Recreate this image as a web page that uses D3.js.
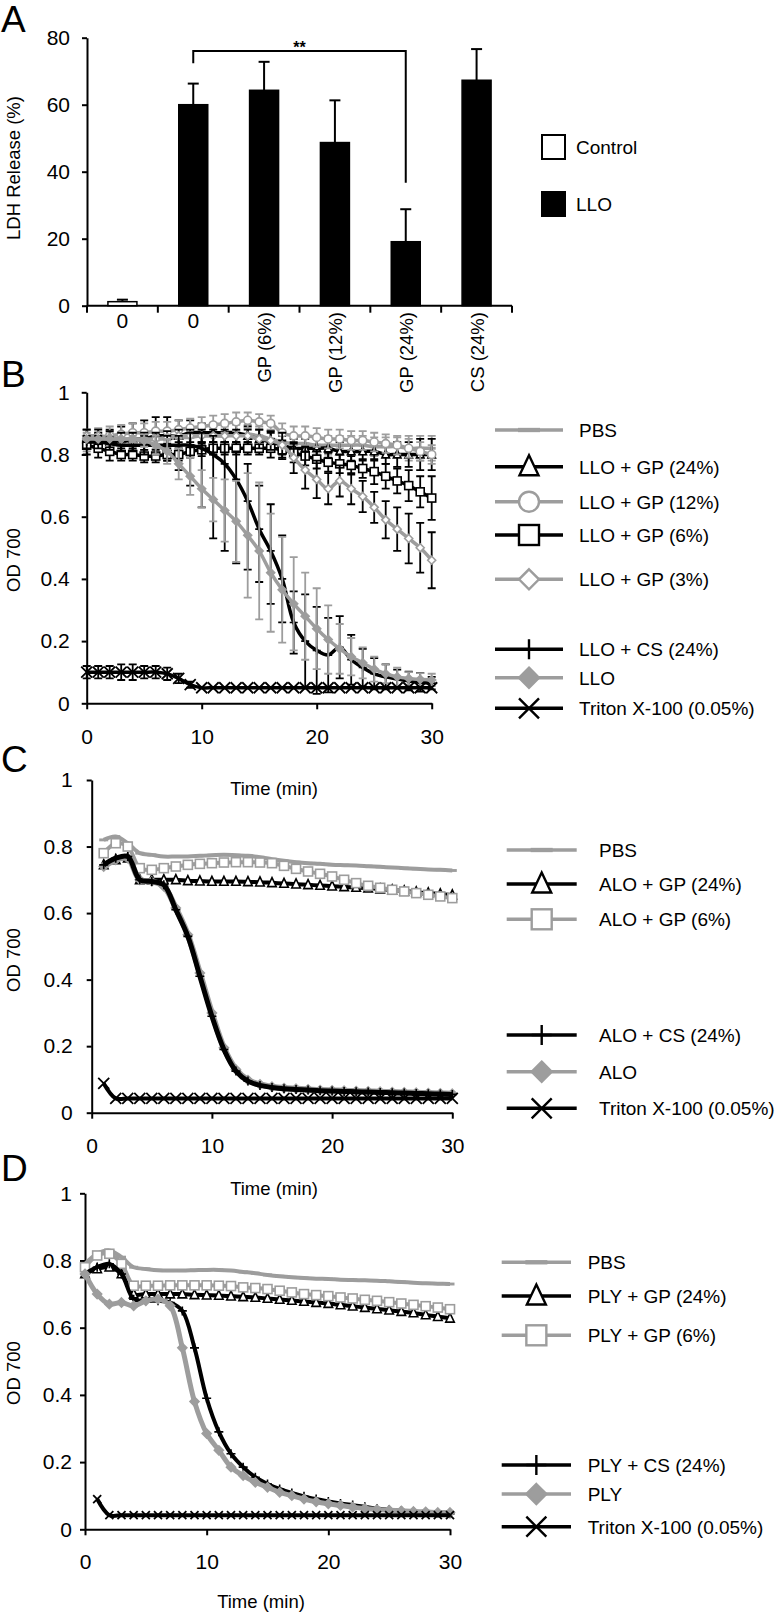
<!DOCTYPE html>
<html>
<head>
<meta charset='utf-8' />
<title></title>
<style>
  body{ margin:0; background:#fff; }
  text{ font-family: "Liberation Sans", Arial, Helvetica, sans-serif; fill:#000; }
</style>
</head>
<body>
<script src="https://d3js.org/d3.v7.min.js"></script>
<script>

// ---- panel A : LDH release
let aCats = ['0','0','GP (6%)','GP (12%)','GP (24%)','CS (24%)'],
  aGroup = ['Control','LLO','LLO','LLO','LLO','LLO'],
  aVals = [1.2, 60.0, 64.3, 48.7, 19.1, 67.3],
  aErr = [0.6, 6.3, 8.5, 12.6, 9.7, 9.3],
  aTicks = [0,20,40,60,80],
  aLegend = ['Control','LLO']

// ---- panel B : LLO hemolysis (OD 700)
let tB = [0,1,2,3,4,5,6,7,8,9,10,11,12,13,14,15,16,17,18,19,20,21,22,23,24,25,26,27,28,29,30]
let bLabels = ['PBS','LLO + GP (24%)','LLO + GP (12%)','LLO + GP (6%)','LLO + GP (3%)','LLO + CS (24%)','LLO','Triton X-100 (0.05%)']
let bPBS = [0.84,0.84,0.84,0.84,0.845,0.845,0.85,0.85,0.855,0.855,0.86,0.86,0.86,0.865,0.865,0.86,0.85,0.84,0.835,0.835,0.83,0.83,0.83,0.83,0.83,0.825,0.825,0.825,0.82,0.82,0.82]
let bPBSErr = [0.03,0.03,0.03,0.03,0.03,0.03,0.03,0.03,0.03,0.03,0.03,0.03,0.03,0.03,0.03,0.03,0.03,0.03,0.03,0.03,0.03,0.03,0.03,0.03,0.03,0.03,0.03,0.03,0.04,0.04,0.04]
let bGP24 = [0.85,0.84,0.84,0.84,0.85,0.85,0.86,0.86,0.86,0.87,0.87,0.87,0.87,0.87,0.86,0.85,0.84,0.83,0.82,0.82,0.82,0.82,0.81,0.81,0.81,0.81,0.80,0.80,0.80,0.80,0.80]
let bGP24Err = [0.03,0.03,0.04,0.05,0.05,0.06,0.06,0.06,0.05,0.04,0.03,0.03,0.03,0.03,0.03,0.03,0.03,0.03,0.03,0.03,0.03,0.03,0.03,0.03,0.03,0.03,0.03,0.04,0.04,0.05,0.05]
let bGP12 = [0.85,0.855,0.86,0.865,0.87,0.87,0.875,0.875,0.88,0.885,0.89,0.895,0.90,0.905,0.91,0.905,0.90,0.87,0.86,0.86,0.855,0.85,0.85,0.845,0.845,0.84,0.835,0.83,0.82,0.81,0.80]
let bGP12Err = [0.03,0.03,0.03,0.03,0.03,0.03,0.03,0.03,0.03,0.03,0.03,0.03,0.03,0.03,0.025,0.025,0.025,0.03,0.03,0.03,0.03,0.03,0.03,0.03,0.03,0.03,0.03,0.03,0.03,0.03,0.03]
let bGP6 = [0.83,0.82,0.81,0.80,0.80,0.795,0.795,0.80,0.80,0.81,0.815,0.82,0.82,0.82,0.82,0.82,0.82,0.815,0.805,0.795,0.785,0.775,0.77,0.765,0.755,0.745,0.73,0.715,0.70,0.68,0.66]
let bGP6Err = [0.03,0.03,0.03,0.02,0.02,0.02,0.02,0.02,0.02,0.02,0.02,0.02,0.02,0.02,0.02,0.02,0.03,0.03,0.03,0.03,0.03,0.03,0.03,0.03,0.03,0.04,0.04,0.04,0.05,0.05,0.07]
let bGP3 = [0.86,0.86,0.855,0.85,0.85,0.85,0.85,0.855,0.86,0.86,0.86,0.86,0.86,0.86,0.86,0.85,0.845,0.83,0.79,0.75,0.72,0.69,0.715,0.69,0.665,0.63,0.59,0.56,0.53,0.50,0.46]
let bGP3Err = [0.02,0.02,0.02,0.02,0.02,0.02,0.02,0.02,0.02,0.02,0.02,0.02,0.02,0.02,0.02,0.03,0.03,0.04,0.05,0.06,0.06,0.05,0.05,0.05,0.05,0.05,0.06,0.07,0.08,0.08,0.09]
let bCS = [0.84,0.84,0.835,0.83,0.83,0.83,0.83,0.83,0.83,0.83,0.82,0.80,0.77,0.72,0.65,0.56,0.49,0.40,0.26,0.20,0.17,0.155,0.18,0.14,0.115,0.095,0.085,0.078,0.072,0.068,0.065]
let bCSErr = [0.02,0.02,0.02,0.02,0.02,0.03,0.03,0.05,0.08,0.13,0.19,0.27,0.28,0.27,0.22,0.17,0.17,0.14,0.10,0.15,0.14,0.12,0.10,0.08,0.06,0.05,0.04,0.03,0.03,0.03,0.02]
let bCSErrUp = [0.02,0.02,0.02,0.02,0.02,0.03,0.03,0.03,0.03,0.04,0.05,0.06,0.07,0.09,0.12,0.14,0.15,0.14,0.10,0.15,0.14,0.12,0.10,0.08,0.06,0.05,0.04,0.03,0.03,0.03,0.02]
let bLLO = [0.85,0.85,0.85,0.85,0.85,0.845,0.83,0.81,0.77,0.73,0.69,0.655,0.62,0.585,0.54,0.49,0.42,0.365,0.32,0.28,0.24,0.205,0.175,0.15,0.13,0.11,0.095,0.085,0.08,0.077,0.075]
let bLLOErr = [0,0,0,0,0.01,0.02,0.03,0.04,0.05,0.06,0.06,0.07,0.10,0.13,0.20,0.22,0.19,0.17,0.15,0.14,0.13,0.11,0.08,0.06,0.05,0.04,0.03,0.03,0.02,0.02,0.02]
let bTriton = [0.10,0.10,0.10,0.10,0.10,0.10,0.10,0.095,0.08,0.06,0.05,0.05,0.05,0.05,0.05,0.05,0.05,0.05,0.05,0.05,0.05,0.05,0.05,0.05,0.05,0.05,0.05,0.05,0.05,0.05,0.05]
let bTritonErr = [0.02,0.02,0.02,0.025,0.025,0.02,0.02,0.02,0.015,0.01,0,0,0,0,0,0,0,0,0,0,0,0,0,0,0,0,0,0,0,0,0]

// ---- panel C : ALO
let tC = [1,2,3,4,5,6,7,8,9,10,11,12,13,14,15,16,17,18,19,20,21,22,23,24,25,26,27,28,29,30]
let cLabels = ['PBS','ALO + GP (24%)','ALO + GP (6%)','ALO + CS (24%)','ALO','Triton X-100 (0.05%)']
let cPBS = [0.82,0.83,0.81,0.78,0.775,0.77,0.77,0.77,0.772,0.774,0.775,0.774,0.772,0.768,0.762,0.757,0.753,0.75,0.748,0.745,0.744,0.743,0.741,0.739,0.737,0.735,0.733,0.731,0.73,0.728]
let cGP24 = [0.745,0.76,0.765,0.70,0.70,0.70,0.70,0.697,0.696,0.695,0.695,0.695,0.694,0.693,0.691,0.689,0.687,0.685,0.683,0.681,0.679,0.677,0.675,0.672,0.669,0.666,0.663,0.66,0.657,0.654]
let cGP6 = [0.78,0.81,0.80,0.735,0.73,0.735,0.74,0.745,0.748,0.75,0.752,0.753,0.753,0.752,0.75,0.742,0.733,0.725,0.718,0.71,0.70,0.69,0.682,0.676,0.67,0.665,0.66,0.655,0.65,0.645]
let cCS = [0.745,0.765,0.77,0.70,0.695,0.685,0.61,0.53,0.41,0.29,0.19,0.125,0.095,0.082,0.076,0.072,0.07,0.068,0.066,0.065,0.064,0.063,0.062,0.061,0.06,0.059,0.058,0.057,0.056,0.055]
let cALO = [0.74,0.76,0.765,0.70,0.695,0.68,0.615,0.535,0.42,0.30,0.195,0.13,0.098,0.085,0.078,0.074,0.072,0.07,0.068,0.067,0.066,0.065,0.064,0.063,0.062,0.061,0.06,0.059,0.058,0.057]
let cTriton = [0.088,0.043,0.043,0.043,0.043,0.043,0.043,0.043,0.043,0.043,0.043,0.043,0.043,0.043,0.043,0.043,0.043,0.043,0.043,0.043,0.043,0.043,0.043,0.043,0.043,0.043,0.043,0.043,0.043,0.043]

// ---- panel D : PLY
let tD = [0,1,2,3,4,5,6,7,8,9,10,11,12,13,14,15,16,17,18,19,20,21,22,23,24,25,26,27,28,29,30]
let dLabels = ['PBS','PLY + GP (24%)','PLY + GP (6%)','PLY + CS (24%)','PLY','Triton X-100 (0.05%)']
let dPBS = [0.79,0.82,0.83,0.81,0.78,0.775,0.771,0.77,0.77,0.771,0.772,0.772,0.77,0.766,0.762,0.757,0.753,0.75,0.748,0.746,0.745,0.743,0.742,0.741,0.74,0.738,0.736,0.734,0.732,0.731,0.73]
let dGP24 = [0.76,0.775,0.78,0.76,0.70,0.70,0.70,0.70,0.70,0.698,0.697,0.696,0.694,0.692,0.69,0.687,0.684,0.681,0.678,0.675,0.672,0.668,0.664,0.66,0.656,0.652,0.648,0.644,0.638,0.633,0.628]
let dGP6 = [0.78,0.815,0.82,0.79,0.725,0.725,0.725,0.726,0.726,0.726,0.726,0.725,0.724,0.72,0.718,0.715,0.71,0.705,0.70,0.697,0.694,0.69,0.687,0.683,0.68,0.676,0.672,0.668,0.664,0.66,0.655]
let dCS = [0.76,0.78,0.79,0.76,0.685,0.68,0.68,0.675,0.65,0.54,0.39,0.29,0.225,0.185,0.155,0.135,0.12,0.108,0.098,0.09,0.083,0.077,0.072,0.067,0.062,0.058,0.055,0.052,0.05,0.048,0.046]
let dPLY = [0.76,0.70,0.67,0.675,0.665,0.68,0.685,0.665,0.54,0.38,0.285,0.235,0.185,0.16,0.14,0.125,0.11,0.10,0.09,0.082,0.076,0.071,0.066,0.062,0.059,0.057,0.055,0.053,0.052,0.05,0.05]
let dTriton = [null,0.09,0.042,0.042,0.042,0.042,0.042,0.042,0.042,0.042,0.042,0.042,0.042,0.042,0.042,0.042,0.042,0.042,0.042,0.042,0.042,0.042,0.042,0.042,0.042,0.042,0.042,0.042,0.042,0.042,0.042]

let odTicks = [0,0.2,0.4,0.6,0.8,1], timeTicks = [0,10,20,30]

const GRAY = '#9d9d9d'
let style = {
  pbs:{color:GRAY, marker:'dash'},
  gp24:{color:'#000', marker:'tri'},
  gp12:{color:GRAY, marker:'circle'},
  gp6k:{color:'#000', marker:'square'},
  gp6g:{color:GRAY, marker:'square'},
  gp3:{color:GRAY, marker:'diamondOpen'},
  cs:{color:'#000', marker:'plus'},
  toxin:{color:GRAY, marker:'diamond'},
  triton:{color:'#000', marker:'x'}
}

let svg = d3.select('body').append('svg').attr('width',777).attr('height',1615)

function marker(g, type, s, color, sw){
  let h = s/2
  if(type == 'dash'){
    g.append('rect').attr('x',-h).attr('y',-sw*0.9).attr('width',s).attr('height',sw*1.8).style('fill',color)
  }else if(type == 'tri'){
    g.append('path').attr('d','M0,'+(-h*1.15)+'L'+(h*0.95)+','+(h*0.85)+'L'+(-h*0.95)+','+(h*0.85)+'Z')
      .style('fill','#fff').style('stroke',color).style('stroke-width',sw)
  }else if(type == 'circle'){
    g.append('circle').attr('r',h).style('fill','#fff').style('stroke',color).style('stroke-width',sw)
  }else if(type == 'square'){
    g.append('rect').attr('x',-h).attr('y',-h).attr('width',s).attr('height',s)
      .style('fill','#fff').style('stroke',color).style('stroke-width',sw)
  }else if(type == 'diamondOpen' || type == 'diamond'){
    g.append('path').attr('d','M0,'+(-h)+'L'+h+',0L0,'+h+'L'+(-h)+',0Z')
      .style('fill',(type == 'diamond')?color:'#fff').style('stroke',color).style('stroke-width',sw)
  }else if(type == 'plus'){
    g.append('path').attr('d','M0,'+(-h)+'V'+h+'M'+(-h)+',0H'+h).style('stroke',color).style('stroke-width',sw)
  }else if(type == 'x'){
    g.append('path').attr('d','M'+(-h)+','+(-h)+'L'+h+','+h+'M'+h+','+(-h)+'L'+(-h)+','+h)
      .style('stroke',color).style('stroke-width',sw)
  }
}

function styleAxis(a, fs){
  a.select('.domain').style('stroke','#000').style('stroke-width',2)
  a.selectAll('.tick line').style('stroke','#000').style('stroke-width',2)
  a.selectAll('.tick text').style('font-size',fs+'px').style('font-family','"Liberation Sans", Arial, sans-serif').style('fill','#000')
}

function panelLetter(txt, yb){
  svg.append('text').attr('x',1).attr('y',yb).text(txt).style('font-size','37px')
}

function yTitle(txt, x, cy, fs){
  svg.append('text').attr('transform','translate('+x+','+cy+') rotate(-90)')
    .attr('text-anchor','middle').text(txt).style('font-size',fs+'px')
}

// ================= panel A
panelLetter('A', 32)
{
  let x = d3.scaleBand().domain(d3.range(aCats.length)).range([87,512]).padding(0),
    y = d3.scaleLinear().domain([0,80]).range([305.7,37.7])
  let g = svg.append('g')

  let ya = g.append('g').attr('transform','translate(87,0)')
    .call(d3.axisLeft(y).tickValues(aTicks).tickSize(5).tickSizeOuter(0).tickPadding(12))
  styleAxis(ya, 21)

  g.append('line').attr('x1',87).attr('x2',512).attr('y1',y(0)).attr('y2',y(0)).style('stroke','#000').style('stroke-width',2)
  g.selectAll('.bnd').data(d3.range(aCats.length+1)).enter().append('line')
    .attr('x1',d => 87 + d*x.step()).attr('x2',d => 87 + d*x.step())
    .attr('y1',y(0)).attr('y2',y(0)+7).style('stroke','#000').style('stroke-width',2)

  let bw = 29
  let bars = g.selectAll('.bar').data(aVals).enter().append('g')
  bars.append('line')
    .attr('x1',(d,i) => x(i)+x.bandwidth()/2).attr('x2',(d,i) => x(i)+x.bandwidth()/2)
    .attr('y1',d => y(d)).attr('y2',(d,i) => y(d+aErr[i]))
    .style('stroke','#000').style('stroke-width',2)
  bars.append('line')
    .attr('x1',(d,i) => x(i)+x.bandwidth()/2-5.5).attr('x2',(d,i) => x(i)+x.bandwidth()/2+5.5)
    .attr('y1',(d,i) => y(d+aErr[i])).attr('y2',(d,i) => y(d+aErr[i]))
    .style('stroke','#000').style('stroke-width',2)
  bars.append('rect')
    .attr('x',(d,i) => x(i)+x.bandwidth()/2-bw/2).attr('width',bw)
    .attr('y',d => y(d)).attr('height',d => y(0)-y(d))
    .style('fill',(d,i) => aGroup[i] == 'Control' ? '#fff' : '#000')
    .style('stroke','#000').style('stroke-width',1.5)

  // category labels
  aCats.forEach((c,i) => {
    let cx = x(i)+x.bandwidth()/2
    if(c == '0'){
      g.append('text').attr('x',cx).attr('y',328).attr('text-anchor','middle').text(c).style('font-size','21px')
    }else{
      g.append('text').attr('transform','translate('+(cx+7)+',312) rotate(-90)')
        .attr('text-anchor','end').text(c).style('font-size','18.5px')
    }
  })

  // significance bracket between LLO alone and GP (24%)
  let x1 = x(1)+x.bandwidth()/2, x2 = x(4)+x.bandwidth()/2
  g.append('path').attr('d','M'+x1+','+y(72.4)+'V'+y(76)+'H'+x2+'V'+y(36.7))
    .style('fill','none').style('stroke','#000').style('stroke-width',2)
  g.append('text').attr('x',(x1+x2)/2).attr('y',53).attr('text-anchor','middle').text('**')
    .style('font-size','16px').style('font-weight','bold')

  yTitle('LDH Release (%)', 19.5, 168, 18.5)

  // legend
  aLegend.forEach((l,i) => {
    let ly = [147,204][i]
    g.append('rect').attr('x',542).attr('y',ly-12).attr('width',23).attr('height',24)
      .style('fill',l == 'Control' ? '#fff' : '#000').style('stroke','#000').style('stroke-width',2)
    g.append('text').attr('x',576).attr('y',ly+7).text(l).style('font-size','19px')
  })
}

// ================= line panels
function linePanel(p){
  let x = d3.scaleLinear().domain([0,30]).range([p.x0,p.x1]),
    y = d3.scaleLinear().domain([0,1]).range([p.y0,p.y1])
  let g = svg.append('g')

  let xa = g.append('g').attr('transform','translate(0,'+p.y0+')')
    .call(d3.axisBottom(x).tickValues(timeTicks).tickSize(6).tickSizeOuter(0).tickPadding(p.xPad))
  styleAxis(xa, 21)
  let ya = g.append('g').attr('transform','translate('+p.x0+',0)')
    .call(d3.axisLeft(y).tickValues(odTicks).tickFormat(d3.format('~g')).tickSize(5).tickSizeOuter(0).tickPadding(p.yPad))
  styleAxis(ya, 21)

  let line = d3.line()
    .defined(d => d.v != null)
    .x(d => x(d.t)).y(d => y(d.v))
    .curve(d3.curveCatmullRom.alpha(0.5))

  let order = p.order || p.series.map((s,i) => i)
  order.forEach(k => {
    let s = p.series[k], st = style[s.st]
    let pts = p.t.map((t,i) => ({t:t, v:s.v[i], e:s.e ? s.e[i] : 0, eu:s.eu ? s.eu[i] : (s.e ? s.e[i] : 0)}))
      .filter(d => d.v != null)
    let sg = g.append('g')
    sg.append('path').datum(pts).attr('d',line)
      .style('fill','none').style('stroke',st.color).style('stroke-width',s.lw || p.lw)
      .style('stroke-linejoin','round')
    if(s.e){
      let ec = s.ec || st.color
      sg.selectAll('.eb').data(pts.filter(d => d.e > 0)).enter().append('path')
        .attr('d',d => 'M'+x(d.t)+','+y(d.v-d.e)+'V'+y(d.v+d.eu)
          +'M'+(x(d.t)-4)+','+y(d.v-d.e)+'h8M'+(x(d.t)-4)+','+y(d.v+d.eu)+'h8')
        .style('fill','none').style('stroke',ec).style('stroke-width',1.8)
    }
    sg.selectAll('.mk').data(pts).enter().append('g')
      .attr('transform',d => 'translate('+x(d.t)+','+y(d.v)+')')
      .each(function(d){
        let ms = (st.marker == 'x') ? p.xSize : p.ms
        marker(d3.select(this), st.marker, ms, st.color, st.marker == 'x' ? 1.8 : 1.6)
      })
  })

  // legend
  p.series.forEach((s,i) => {
    let st = style[s.st], ly = p.legY[i]
    let lg = g.append('g')
    lg.append('line').attr('x1',p.legX0).attr('x2',p.legX1).attr('y1',ly).attr('y2',ly)
      .style('stroke',st.color).style('stroke-width',3.5)
    let mg = lg.append('g').attr('transform','translate('+((p.legX0+p.legX1)/2)+','+ly+')')
    marker(mg, st.marker, st.marker == 'dash' ? 22 : 20, st.color, 2.4)
    lg.append('text').attr('x',p.legT).attr('y',ly+7).text(s.label).style('font-size','19px')
  })

  yTitle('OD 700', 20, p.yTitleY, 18.5)
  svg.append('text').attr('x',p.tX).attr('y',p.tY).attr('text-anchor','middle').text('Time (min)').style('font-size','18.5px')
}

panelLetter('B', 387)
linePanel({
  x0:86.7, x1:431.7, y0:703.3, y1:392.3, xPad:20, yPad:12, lw:3.5, ms:8, xSize:11,
  t:tB,
  series:[
    {label:bLabels[0], st:'pbs', v:bPBS, e:bPBSErr},
    {label:bLabels[1], st:'gp24', v:bGP24, e:bGP24Err},
    {label:bLabels[2], st:'gp12', v:bGP12, e:bGP12Err},
    {label:bLabels[3], st:'gp6k', v:bGP6, e:bGP6Err},
    {label:bLabels[4], st:'gp3', v:bGP3, e:bGP3Err, ec:'#000'},
    {label:bLabels[5], st:'cs', v:bCS, e:bCSErr, eu:bCSErrUp},
    {label:bLabels[6], st:'toxin', v:bLLO, e:bLLOErr},
    {label:bLabels[7], st:'triton', v:bTriton, e:bTritonErr}
  ],
  legX0:495, legX1:563, legT:579,
  legY:[430,466.7,501.7,535,579.3,649.3,677.7,708.3],
  yTitleY:560, tX:274, tY:795
})

panelLetter('C', 772)
linePanel({
  x0:91.7, x1:452.3, y0:1112.7, y1:780, xPad:19, yPad:14, lw:4, ms:9, xSize:11,
  t:tC,
  series:[
    {label:cLabels[0], st:'pbs', v:cPBS},
    {label:cLabels[1], st:'gp24', v:cGP24},
    {label:cLabels[2], st:'gp6g', v:cGP6},
    {label:cLabels[3], st:'cs', v:cCS, lw:5},
    {label:cLabels[4], st:'toxin', v:cALO, lw:6},
    {label:cLabels[5], st:'triton', v:cTriton}
  ],
  order:[0,1,2,4,3,5],
  legX0:506.7, legX1:576.7, legT:599,
  legY:[850,884,919.3,1035,1071.7,1108.3],
  yTitleY:960, tX:274, tY:1195
})

panelLetter('D', 1181)
linePanel({
  x0:85, x1:450, y0:1529.3, y1:1193.3, xPad:19, yPad:8, lw:4, ms:9, xSize:8,
  t:tD,
  series:[
    {label:dLabels[0], st:'pbs', v:dPBS},
    {label:dLabels[1], st:'gp24', v:dGP24},
    {label:dLabels[2], st:'gp6g', v:dGP6},
    {label:dLabels[3], st:'cs', v:dCS},
    {label:dLabels[4], st:'toxin', v:dPLY, lw:5},
    {label:dLabels[5], st:'triton', v:dTriton}
  ],
  legX0:501.7, legX1:571, legT:587.7,
  legY:[1262.3,1296,1335.3,1465,1494,1526.7],
  yTitleY:1373, tX:261, tY:1608
})

</script>
</body>
</html>
